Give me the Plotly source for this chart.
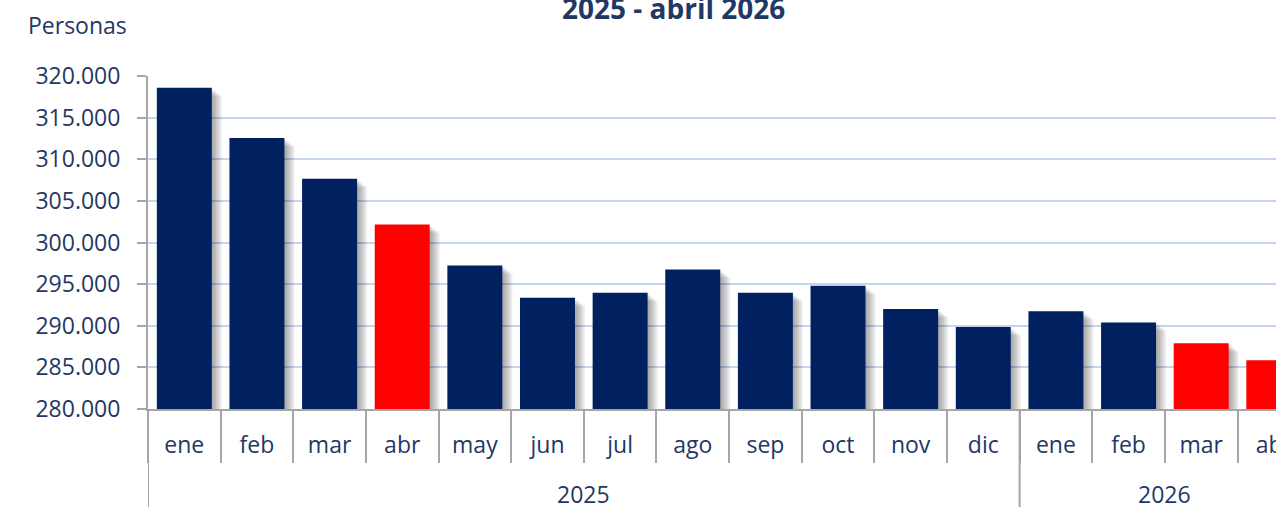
import plotly.graph_objects as go

# ---- data ----
years = ["2025"] * 12 + ["2026"] * 4
months = ["ene", "feb", "mar", "abr", "may", "jun", "jul", "ago", "sep", "oct", "nov", "dic",
          "ene", "feb", "mar", "abr"]
personas = [318600, 312550, 307650, 302150, 297250, 293350, 293950, 296750, 293950, 294800,
            292000, 289850, 291750, 290400, 287900, 285850]
highlight = [False, False, False, True, False, False, False, False, False, False, False, False,
             False, False, True, True]
year_groups = ["2025", "2026"]
y_ticks = [280000, 285000, 290000, 295000, 300000, 305000, 310000, 315000, 320000]
title_text = "2025 - abril 2026"
y_label = "Personas"

# ---- style ----
NAVY = "#002060"
RED = "#FF0000"
TXT = "#1F3864"
GRAY = "#A6A6A6"
FONT = "Open Sans"

keys = [f"{m} {y}" for m, y in zip(months, years)]
colors = [RED if h else NAVY for h in highlight]

W, H = 1276, 507
ML, MR, MT, MB = 148, 0, 76, 98
plot_w = W - ML - MR
plot_h = H - MT - MB
x_end = 15.03
px_per_cat = plot_w / (x_end + 0.5)
y_min, y_max = y_ticks[0], y_ticks[-1]
val_per_px = (y_max - y_min) / plot_h

bw = 0.757
fig = go.Figure()

# soft drop shadow
for k in (2, 4, 6, 8, 10):
    fig.add_trace(go.Bar(
        x=keys, y=[v - k * 0.8 * val_per_px for v in personas],
        width=bw, offset=-bw / 2 + k / px_per_cat,
        marker=dict(color="rgba(0,0,0,0.075)", line=dict(width=0)),
        hoverinfo="skip", showlegend=False))

fig.add_trace(go.Bar(
    x=keys, y=personas, width=bw, offset=-bw / 2,
    marker=dict(color=colors, line=dict(width=0)),
    showlegend=False))

fig.update_layout(
    width=W, height=H, autosize=False,
    margin=dict(l=ML, r=MR, t=MT, b=MB, pad=0, autoexpand=False),
    barmode="overlay",
    plot_bgcolor="white", paper_bgcolor="white",
    separators=",.",
    font=dict(family=FONT, color=TXT, size=23),
)

fig.update_xaxes(
    type="category", categoryorder="array", categoryarray=keys,
    tickvals=keys, ticktext=months,
    tickson="boundaries", ticks="outside", ticklen=52, tickwidth=2, tickcolor=GRAY,
    showline=True, linecolor=GRAY, linewidth=2,
    showgrid=False, zeroline=False, automargin=False,
    range=[-0.5, x_end],
    tickfont=dict(family=FONT, color=TXT, size=23),
    ticklabelstandoff=14,
)

fig.update_yaxes(
    range=[y_min, y_max], tickvals=y_ticks, tickformat=",.0f",
    ticks="outside", ticklen=9, tickwidth=2, tickcolor=GRAY,
    showline=True, linecolor=GRAY, linewidth=2,
    showgrid=True, gridcolor="#C6D4EE", gridwidth=1.5,
    zeroline=False, automargin=False,
    tickfont=dict(family=FONT, color=TXT, size=23),
    ticklabelstandoff=12,
)

# vertical lines below axis: left edge and year divider
div = years.index(year_groups[1]) - 0.5
for xv in (-0.5, div):
    fig.add_shape(type="line", xref="x", yref="paper", x0=xv, x1=xv, y0=0, y1=-0.32,
                  line=dict(color=GRAY, width=2))

# year labels
for yg in year_groups:
    idx = [i for i, y in enumerate(years) if y == yg]
    fig.add_annotation(x=(idx[0] + idx[-1]) / 2, xref="x", y=-0.255, yref="paper",
                       text=yg, showarrow=False, xanchor="center", yanchor="middle",
                       font=dict(family=FONT, color=TXT, size=23))

fig.add_annotation(x=-0.108, xref="paper", y=1.153, yref="paper", text=y_label,
                   showarrow=False, xanchor="left", yanchor="middle",
                   font=dict(family=FONT, color=TXT, size=23))

fig.add_annotation(x=(673 - ML) / plot_w, xref="paper", y=1.205, yref="paper",
                   text=f"<b>{title_text}</b>",
                   showarrow=False, xanchor="center", yanchor="middle",
                   font=dict(family=FONT, color=TXT, size=28))

post = (
    "document.documentElement.style.overflow='hidden';"
    "document.body.style.overflow='hidden';"
    "document.body.style.margin='0';"
)

fig.write_html(
    "out.html",
    config={"responsive": False, "displayModeBar": False},
    post_script=post,
)
